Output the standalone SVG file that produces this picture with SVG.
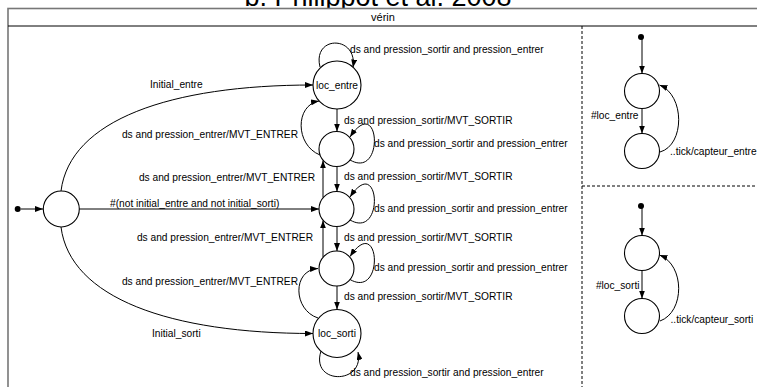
<svg xmlns="http://www.w3.org/2000/svg" width="757" height="387" viewBox="0 0 757 387">
<defs>
<marker id="ah" markerWidth="8" markerHeight="6" refX="8" refY="3" orient="auto" markerUnits="userSpaceOnUse"><path d="M0,0 L8,3 L0,6 z" fill="#000"/></marker>
<style>
text{font-family:"Liberation Sans",Arial,sans-serif;font-size:10.2px;fill:#000}
.st{fill:#fff;stroke:#000;stroke-width:1.1}
.e{fill:none;stroke:#000;stroke-width:1;marker-end:url(#ah)}
.r{text-anchor:end}
.m{text-anchor:middle}
.dash{fill:none;stroke:#000;stroke-width:1;stroke-dasharray:3,2}
</style>
</defs>
<rect width="757" height="387" fill="#fff"/>
<text x="378" y="6" class="m" style="font-size:27px">b. Philippot et al. 2008</text>
<rect x="8" y="8.5" width="770" height="400" fill="#fff" stroke="#777" stroke-width="1.6"/>
<line x1="8" y1="26" x2="757" y2="26" stroke="#000" stroke-width="1"/>
<text x="383" y="21" class="m" style="font-size:11px">vérin</text>
<line class="dash" x1="582" y1="26" x2="582" y2="387"/>
<line class="dash" x1="582" y1="186" x2="757" y2="186"/>

<g id="connectors">
<line class="e" x1="21" y1="209" x2="43" y2="209"/>
<path class="e" d="M61,191 C70,120 170,85 313,85"/>
<line class="e" x1="79" y1="209" x2="319" y2="209"/>
<path class="e" d="M61,227 C70,298 170,333.5 313,333.5"/>
<path class="e" d="M320,67 C312,35 358,35 353,67.5"/>
<line class="e" x1="337" y1="109" x2="337" y2="131.5"/>
<line class="e" x1="337" y1="166.5" x2="337" y2="191.5"/>
<line class="e" x1="337" y1="226.5" x2="337" y2="251"/>
<line class="e" x1="337" y1="286" x2="337" y2="309.5"/>
<line class="e" x1="323" y1="197.6" x2="323" y2="160.4"/>
<line class="e" x1="323" y1="257.1" x2="323" y2="220.4"/>
<path class="e" d="M320,155 C295,145 295,105 319,101"/>
<path class="e" d="M318,318 C293,310 292,270 318,268.5"/>
<path class="e" d="M350,160 C385,180 380,92 350,137"/>
<path class="e" d="M350,220 C385,240 380,152 350,197"/>
<path class="e" d="M350,279.5 C385,299.5 380,211.5 350,256.5"/>
<path class="e" d="M321,351 C310,385 365,385 358,352"/>
<line class="e" x1="642" y1="39" x2="642" y2="73.5"/>
<line class="e" x1="642" y1="108.5" x2="642" y2="133.5"/>
<path class="e" d="M660,152 C685,145 685,95 659.5,85"/>
<line class="e" x1="642" y1="208" x2="642" y2="235.5"/>
<line class="e" x1="642" y1="270.5" x2="642" y2="298.5"/>
<path class="e" d="M660,321 C685,312 685,265 659.5,255"/>
</g>

<g id="labels">
<text x="150" y="88">Initial_entre</text>
<text x="152" y="337">Initial_sorti</text>
<text x="110" y="207">#(not initial_entre and not initial_sorti)</text>
<text x="350" y="52.5">ds and pression_sortir and pression_entrer</text>
<text x="344" y="123.5">ds and pression_sortir/MVT_SORTIR</text>
<text x="344" y="180">ds and pression_sortir/MVT_SORTIR</text>
<text x="344" y="241">ds and pression_sortir/MVT_SORTIR</text>
<text x="344" y="300">ds and pression_sortir/MVT_SORTIR</text>
<text x="374" y="147">ds and pression_sortir and pression_entrer</text>
<text x="374" y="212">ds and pression_sortir and pression_entrer</text>
<text x="374" y="271">ds and pression_sortir and pression_entrer</text>
<text x="350" y="376">ds and pression_sortir and pression_entrer</text>
<text x="298" y="138" class="r">ds and pression_entrer/MVT_ENTRER</text>
<text x="315" y="181" class="r">ds and pression_entrer/MVT_ENTRER</text>
<text x="313" y="241" class="r">ds and pression_entrer/MVT_ENTRER</text>
<text x="298" y="285" class="r">ds and pression_entrer/MVT_ENTRER</text>
<text x="638.5" y="119" class="r">#loc_entre</text>
<text x="670" y="155">..tick/capteur_entre</text>
<text x="639.5" y="288.5" class="r">#loc_sorti</text>
<text x="670.5" y="323">..tick/capteur_sorti</text>
</g>

<g id="init_main"><circle cx="17.7" cy="209" r="3" fill="#000"/></g>
<g id="s_init"><circle class="st" cx="61.3" cy="209" r="18"/></g>
<g id="loc_entre"><circle class="st" cx="337" cy="85" r="24"/><text x="337" y="88.5" class="m">loc_entre</text></g>
<g id="s2"><circle class="st" cx="336.5" cy="149" r="17.5"/></g>
<g id="s3"><circle class="st" cx="336.5" cy="209" r="17.5"/></g>
<g id="s4"><circle class="st" cx="336.5" cy="268.5" r="17.5"/></g>
<g id="loc_sorti"><circle class="st" cx="337" cy="333.5" r="24"/><text x="337" y="337" class="m">loc_sorti</text></g>

<g id="init_e"><circle cx="641" cy="37" r="3" fill="#000"/></g>
<g id="e1"><circle class="st" cx="642" cy="91" r="17.5"/></g>
<g id="e2"><circle class="st" cx="642" cy="151" r="17.5"/></g>
<g id="init_s"><circle cx="641" cy="206" r="3" fill="#000"/></g>
<g id="so1"><circle class="st" cx="642" cy="253" r="17.5"/></g>
<g id="so2"><circle class="st" cx="642" cy="316" r="17.5"/></g>
</svg>
